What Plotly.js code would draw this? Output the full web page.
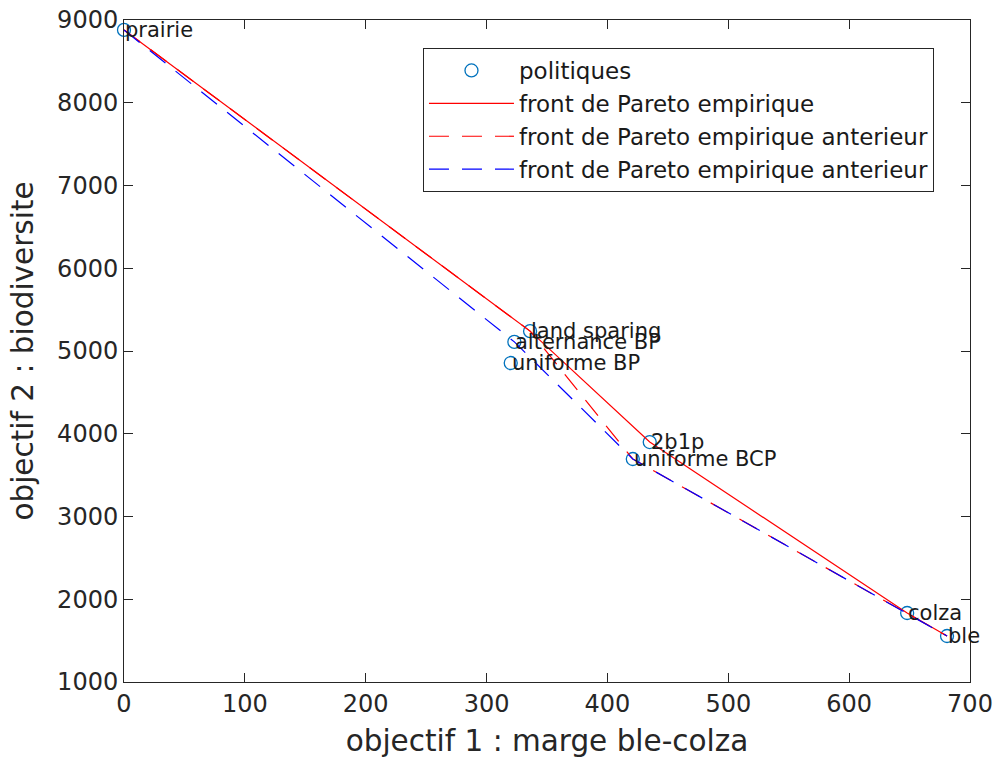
<!DOCTYPE html>
<html>
<head>
<meta charset="utf-8">
<script src="https://cdn.plot.ly/plotly-3.0.1.min.js"></script>
<style>html,body{margin:0;padding:0;background:#fff;}#chart{width:997px;height:763px;}</style>
</head>
<body>
<div id="chart"></div>
<script>
// policies (objective 1 : marge ble-colza, objective 2 : biodiversite)
const policyNames = ['prairie', 'land sparing', 'alternance BP', 'uniforme BP', '2b1p', 'uniforme BCP', 'colza', 'ble'];
const policyX = [0, 336, 323, 320, 435, 421, 648, 681];
const policyY = [8880, 5240, 5110, 4855, 3900, 3695, 1834, 1556];

// empirical Pareto fronts, as sequences of policies
const frontCurrent = ['prairie', 'land sparing', '2b1p', 'colza', 'ble'];
const frontPrevRed = ['prairie', 'land sparing', 'uniforme BCP', 'colza', 'ble'];
const frontPrevBlue = ['prairie', 'alternance BP', 'uniforme BCP', 'colza', 'ble'];

const legendNames = ['politiques', 'front de Pareto empirique', 'front de Pareto empirique anterieur', 'front de Pareto empirique anterieur'];
const xTicks = [0, 100, 200, 300, 400, 500, 600, 700];
const yTicks = [1000, 2000, 3000, 4000, 5000, 6000, 7000, 8000, 9000];

function pick(seq, arr) { return seq.map(n => arr[policyNames.indexOf(n)]); }

const FONT = 'DejaVu Sans, sans-serif';
const AX = '#262626';

const traces = [
  { x: policyX, y: policyY, mode: 'markers', name: legendNames[0], cliponaxis: false,
    marker: { symbol: 'circle-open', size: 13, color: '#0072BD', line: { width: 1.3, color: '#0072BD' } } },
  { x: pick(frontCurrent, policyX), y: pick(frontCurrent, policyY), mode: 'lines', name: legendNames[1],
    line: { color: '#FF0000', width: 1.2 } },
  { x: pick(frontPrevRed, policyX), y: pick(frontPrevRed, policyY), mode: 'lines', name: legendNames[2],
    line: { color: '#FF0000', width: 1.2, dash: '20px,13px' } },
  { x: pick(frontPrevBlue, policyX), y: pick(frontPrevBlue, policyY), mode: 'lines', name: legendNames[3],
    line: { color: '#0000FF', width: 1.2, dash: '20px,13px' } }
];

const annotations = policyNames.map((n, i) => ({
  x: policyX[i], y: policyY[i], xref: 'x', yref: 'y', text: n, showarrow: false,
  xanchor: 'left', yanchor: 'middle', xshift: -1, font: { family: FONT, size: 21, color: '#1a1a1a' }
}));

const layout = {
  width: 997, height: 763,
  margin: { l: 124, r: 27, t: 20, b: 81 },
  paper_bgcolor: '#fff', plot_bgcolor: '#fff',
  font: { family: FONT, color: AX },
  showlegend: true,
  legend: { x: 0.3534, y: 0.9577, xanchor: 'left', yanchor: 'top', bgcolor: '#fff',
    bordercolor: AX, borderwidth: 1, itemwidth: 85, tracegroupgap: 0,
    font: { family: FONT, size: 23, color: '#1a1a1a' } },
  xaxis: { range: [0, 700], tickvals: xTicks, ticktext: xTicks.map(String), showgrid: false, zeroline: false,
    showline: true, linecolor: AX, linewidth: 1, mirror: 'ticks', ticks: 'inside', ticklen: 9, tickcolor: AX,
    tickfont: { family: FONT, size: 24, color: AX },
    title: { text: 'objectif 1 : marge ble-colza', font: { family: FONT, size: 29.5, color: AX }, standoff: 13 } },
  yaxis: { range: [1000, 9000], tickvals: yTicks, ticktext: yTicks.map(String), showgrid: false, zeroline: false,
    showline: true, linecolor: AX, linewidth: 1, mirror: 'ticks', ticks: 'inside', ticklen: 9, tickcolor: AX,
    tickfont: { family: FONT, size: 24, color: AX },
    title: { text: 'objectif 2 : biodiversite', font: { family: FONT, size: 29.5, color: AX }, standoff: 14 } },
  annotations: annotations
};

Plotly.newPlot('chart', traces, layout, { displayModeBar: false, staticPlot: true });
</script>
</body>
</html>
